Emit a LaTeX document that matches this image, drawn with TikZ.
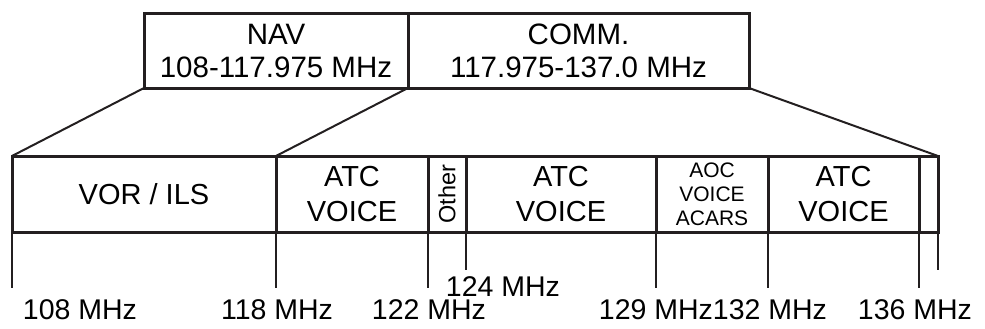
\documentclass[tikz,border=0pt]{standalone}
\usepackage{fontspec}
\setmainfont{Liberation Sans}
\usetikzlibrary{positioning}
\definecolor{ink}{HTML}{231F20}

\begin{document}
\begin{tikzpicture}[x=1pt,y=-1pt,
		band/.style={draw=ink,line width=3pt,inner sep=0pt,outer sep=0pt,minimum height=76pt,align=center,font=\fontsize{29}{35}\selectfont},
		head/.style={band,minimum height=74pt,font=\fontsize{29.5}{33}\selectfont},
		small/.style={font=\fontsize{21}{24}\selectfont},
		fan/.style={draw=ink,line width=2pt},
		tick/.style={draw=ink,line width=2pt},
		freq/.style={inner sep=0pt,font=\fontsize{28.5}{34}\selectfont}]
				\useasboundingbox (0,0) rectangle (985,329);
				\node[head,minimum width=264pt] (nav) at (276,51) {NAV\\108-117.975 MHz};
				\node[head,minimum width=341pt,right=0pt of nav] (comm) {COMM.\\117.975-137.0 MHz};
				\node[band,minimum width=264pt] (vor) at (144,194) {VOR / ILS};
				\node[band,minimum width=152pt,right=0pt of vor] (atca) {ATC\\VOICE};
				\node[band,minimum width=38pt,right=0pt of atca] (oth) {\fontsize{23.5}{24}\selectfont\rotatebox{90}{Other}};
				\node[band,minimum width=190pt,right=0pt of oth] (atcb) {ATC\\VOICE};
				\node[band,small,minimum width=112pt,right=0pt of atcb] (aoc) {AOC\\VOICE\\ACARS};
				\node[band,minimum width=151pt,right=0pt of aoc] (atcc) {ATC\\VOICE};
				\node[band,minimum width=19pt,right=0pt of atcc] (spare) {};
				\draw[fan] (nav.south west) -- (vor.north west);
				\draw[fan] (nav.south east) -- (atca.north west);
				\draw[fan] (comm.south east) -- (spare.north east);
				\foreach\c\l in {vor.south west/56, vor.south east/56, atca.south east/56, oth.south east/38, atcb.south east/56, aoc.south east/56, atcc.south east/56, spare.south east/38}
				{\draw[tick] (\c) -- ++(0,\l);}
				\foreach\x\y\f in {80/310/108, 277/310/118, 429/310/122, 503/287/124, 656/310/129, 770/310/132, 915/310/136}
				{\node[freq] (f\f) at (\x,\y) {\f{} MHz};}
	\end{tikzpicture}
\end{document}
